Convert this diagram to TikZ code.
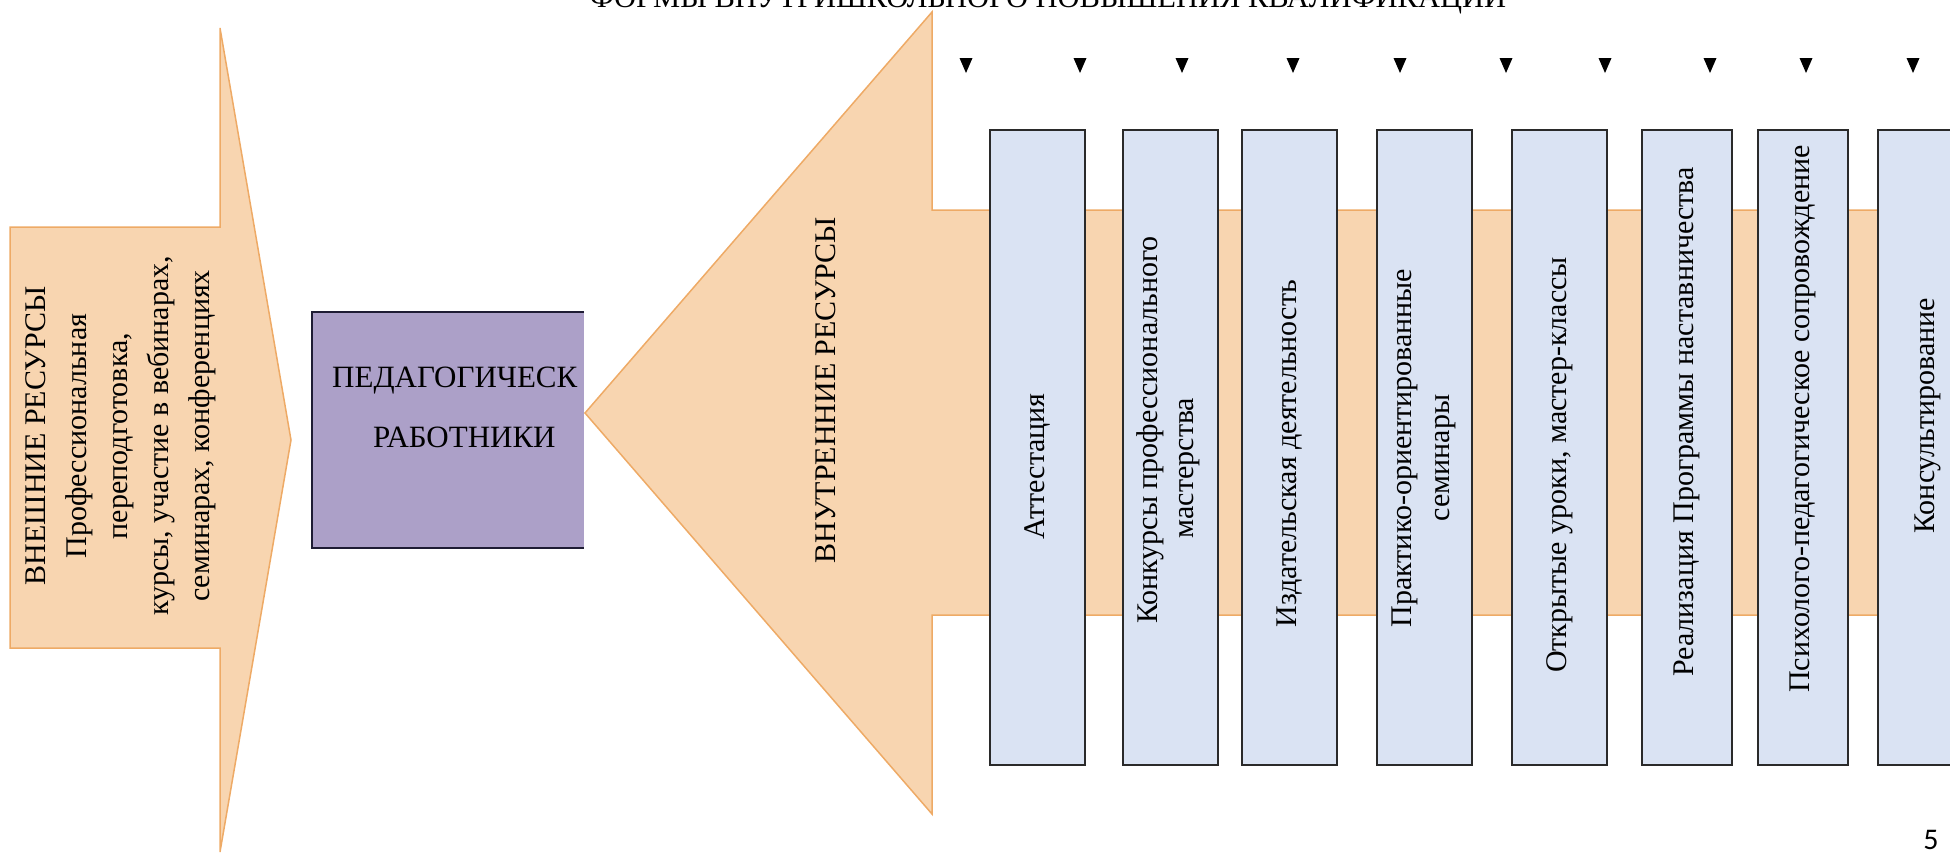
\documentclass[tikz,border=0pt]{standalone}
\usepackage{fontspec}
\setmainfont{Liberation Serif}
\newfontfamily\pagenumfont{Carlito}
\definecolor{peach}{HTML}{F8D5B0}
\definecolor{peachline}{HTML}{EEAA66}
\definecolor{lilac}{HTML}{ACA0C8}
\definecolor{lilacline}{HTML}{1E1C34}
\definecolor{formblue}{HTML}{DAE3F3}
\definecolor{formline}{HTML}{2A2A2A}
\begin{document}
\begin{tikzpicture}[x=1pt,y=-1pt,
  arrowshape/.style={fill=peach, draw=peachline, line width=1.5pt, line join=miter},
  formbox/.style={fill=formblue, draw=formline, line width=2pt},
  vtext/.style={rotate=90, font=\fontsize{30}{41}\selectfont, inner sep=0pt, align=center},
  htext/.style={font=\fontsize{31}{41}\selectfont, inner sep=0pt},
  marker/.style={fill=black}
]
\useasboundingbox (0,0) rectangle (1950,857);
% title (cut by the page top)
\node[htext, anchor=base, font=\fontsize{30.5}{41}\selectfont] (title) at (1048,7) {ФОРМЫ ВНУТРИШКОЛЬНОГО ПОВЫШЕНИЯ КВАЛИФИКАЦИИ};
% left arrow (external resources)
\draw[arrowshape] (10,227) -- (220,227) -- (220,28) -- (291,440) -- (220,852) -- (220,648) -- (10,648) -- cycle;
\node[vtext] (ext) at (121,436) {ВНЕШНИЕ РЕСУРСЫ\\Профессиональная\\переподготовка,\\курсы, участие в вебинарах,\\семинарах, конференциях};
% central box
\fill[lilac] (312,312) rectangle (584,548);
\draw[lilacline, line width=2pt] (584,312) -- (312,312) -- (312,548) -- (584,548);
\node[htext, anchor=west] (ped1) at (332,381) {ПЕДАГОГИЧЕСК};
\node[htext, anchor=west] (ped2) at (373,437) {РАБОТНИКИ};
% big arrow (internal resources)
\draw[arrowshape] (585,413) -- (932,12) -- (932,210) -- (1975,210) -- (1975,615) -- (932,615) -- (932,814) -- cycle;
\node[vtext] (int) at (826,390) {ВНУТРЕННИЕ РЕСУРСЫ};
% forms
\draw[formbox] (990,130) rectangle (1085,765);
\draw[formbox] (1123,130) rectangle (1218,765);
\draw[formbox] (1242,130) rectangle (1337,765);
\draw[formbox] (1377,130) rectangle (1472,765);
\draw[formbox] (1512,130) rectangle (1607,765);
\draw[formbox] (1642,130) rectangle (1732,765);
\draw[formbox] (1758,130) rectangle (1848,765);
\draw[formbox] (1878,130) rectangle (1975,765);
\node[vtext, anchor=east] (f1) at (1037,393) {Аттестация};
\node[vtext] (f2a) at (1150,430) {Конкурсы профессионального};
\node[vtext] (f2b) at (1190,468) {мастерства};
\node[vtext, anchor=east] (f3) at (1290,280) {Издательская деятельность};
\node[vtext] (f4a) at (1405,448) {Практико-ориентированные};
\node[vtext] (f4b) at (1446,458) {семинары};
\node[vtext, anchor=east] (f5) at (1560,257) {Открытые уроки,  мастер-классы};
\node[vtext, anchor=east] (f6) at (1687,167) {Реализация Программы наставничества};
\node[vtext, anchor=east] (f7) at (1803,145) {Психолого-педагогическое сопровождение};
\node[vtext, anchor=east] (f8) at (1928,298) {Консультирование};
% small markers
\foreach \mx in {966,1080,1182,1293,1400,1506,1605,1710,1806,1913}
  \fill[marker] (\mx-6.5,58) -- (\mx+6.5,58) -- (\mx,73) -- cycle;
% page number
\node[font=\pagenumfont\fontsize{30}{36}\selectfont, inner sep=0pt] (pg) at (1931,840) {5};
\end{tikzpicture}
\end{document}
